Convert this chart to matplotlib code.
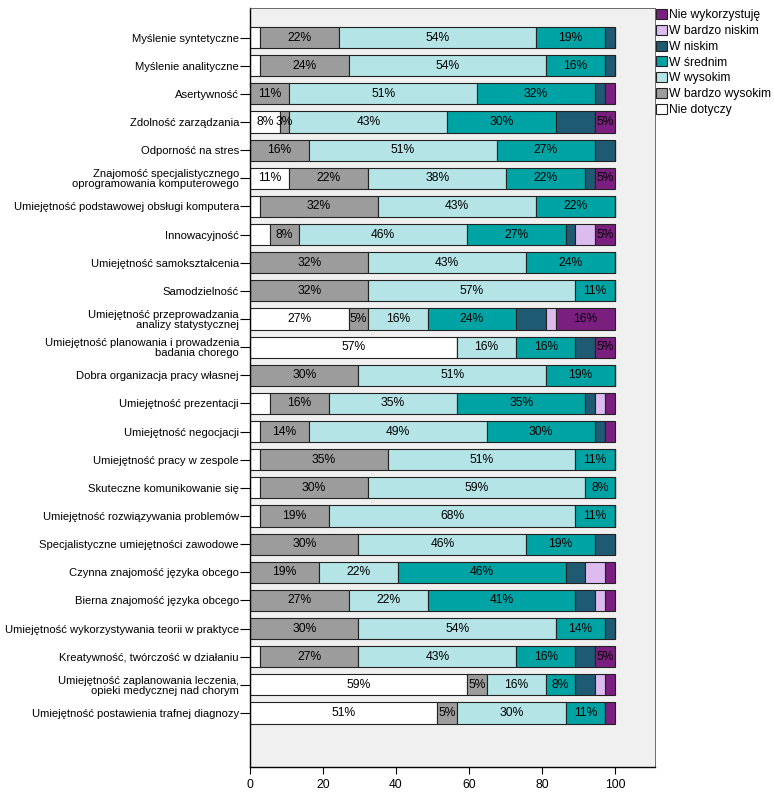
import matplotlib.pyplot as plt
import numpy as np

plt.rcParams['font.family'] = ['Liberation Sans', 'DejaVu Sans']

categories = [
    "Myślenie syntetyczne",
    "Myślenie analityczne",
    "Asertywność",
    "Zdolność zarządzania",
    "Odporność na stres",
    "Znajomość specjalistycznego\noprogramowania komputerowego",
    "Umiejętność podstawowej obsługi komputera",
    "Innowacyjność",
    "Umiejętność samokształcenia",
    "Samodzielność",
    "Umiejętność przeprowadzania\nanalizy statystycznej",
    "Umiejętność planowania i prowadzenia\nbadania chorego",
    "Dobra organizacja pracy własnej",
    "Umiejętność prezentacji",
    "Umiejętność negocjacji",
    "Umiejętność pracy w zespole",
    "Skuteczne komunikowanie się",
    "Umiejętność rozwiązywania problemów",
    "Specjalistyczne umiejętności zawodowe",
    "Czynna znajomość języka obcego",
    "Bierna znajomość języka obcego",
    "Umiejętność wykorzystywania teorii w praktyce",
    "Kreatywność, twórczość w działaniu",
    "Umiejętność zaplanowania leczenia,\nopieki medycznej nad chorym",
    "Umiejętność postawienia trafnej diagnozy",
]

series = ["Nie dotyczy", "W bardzo wysokim", "W wysokim", "W średnim",
          "W niskim", "W bardzo niskim", "Nie wykorzystuję"]

# counts of respondents (n = 37) per category, one list per series
nie_dotyczy      = [1, 1, 0, 3, 0, 4, 1, 2, 0, 0, 10, 21, 0, 2, 1, 1, 1, 1, 0, 0, 0, 0, 1, 22, 19]
bardzo_wysokim   = [8, 9, 4, 1, 6, 8, 12, 3, 12, 12, 2, 0, 11, 6, 5, 13, 11, 7, 11, 7, 10, 11, 10, 2, 2]
wysokim          = [20, 20, 19, 16, 19, 14, 16, 17, 16, 21, 6, 6, 19, 13, 18, 19, 22, 25, 17, 8, 8, 20, 16, 6, 11]
srednim          = [7, 6, 12, 11, 10, 8, 8, 10, 9, 4, 9, 6, 7, 13, 11, 4, 3, 4, 7, 17, 15, 5, 6, 3, 4]
niskim           = [1, 1, 1, 4, 2, 1, 0, 1, 0, 0, 3, 2, 0, 1, 1, 0, 0, 0, 2, 2, 2, 1, 2, 2, 0]
bardzo_niskim    = [0, 0, 0, 0, 0, 0, 0, 2, 0, 0, 1, 0, 0, 1, 0, 0, 0, 0, 0, 2, 1, 0, 0, 1, 0]
nie_wykorzystuje = [0, 0, 1, 2, 0, 2, 0, 2, 0, 0, 6, 2, 0, 1, 1, 0, 0, 0, 0, 1, 1, 0, 2, 1, 1]

data = [nie_dotyczy, bardzo_wysokim, wysokim, srednim, niskim, bardzo_niskim, nie_wykorzystuje]
colors = ["#FFFFFF", "#9C9C9C", "#B4E4E6", "#00A3A3", "#1F5A73", "#DCBCEF", "#7A1F80"]
# smallest count that gets a label in each series (None = never labelled)
label_min = [3, 1, 1, 1, None, None, 2]

counts = np.array(data, dtype=float)
total = counts.sum(axis=0)
pct = counts / total * 100

fig = plt.figure(figsize=(7.74, 7.96), dpi=100)
ax = fig.add_axes([250 / 774, 29 / 796, 405 / 774, 759 / 796])
ax.set_facecolor("#F0F0F0")

y = np.arange(len(categories))
left = np.zeros(len(categories))
handles = []
for i, name in enumerate(series):
    bars = ax.barh(y, pct[i], left=left, height=0.75, color=colors[i],
                   edgecolor="#222222", linewidth=0.8, label=name)
    handles.append(bars)
    for j in range(len(categories)):
        c = counts[i][j]
        if label_min[i] is not None and c >= label_min[i]:
            ax.text(left[j] + pct[i][j] / 2, y[j], "%d%%" % round(pct[i][j]),
                    ha="center", va="center", fontsize=8.7, color="black")
    left += pct[i]

ax.set_yticks(y)
ax.set_yticklabels(categories, fontsize=8.1, linespacing=1.0)
ax.set_ylim(len(categories) - 1 + 1.92, -1.05)
ax.set_xlim(0, 111)
ax.set_xticks([0, 20, 40, 60, 80, 100])
ax.tick_params(axis="x", labelsize=8.7, length=5, color="black")
ax.tick_params(axis="y", length=7, color="black", pad=1)
for s in ["left", "bottom"]:
    ax.spines[s].set_color("black")
    ax.spines[s].set_linewidth(1.0)
for s in ["top", "right"]:
    ax.spines[s].set_color("#555555")
    ax.spines[s].set_linewidth(0.6)

fig.legend(handles[::-1], series[::-1], loc="upper left",
           bbox_to_anchor=(656 / 774, 1 - 9 / 796), frameon=False,
           fontsize=8.7, handlelength=0.9, handleheight=0.9,
           handletextpad=0.15, labelspacing=0.3, borderaxespad=0, borderpad=0)

fig.savefig("out.png", dpi=100)
